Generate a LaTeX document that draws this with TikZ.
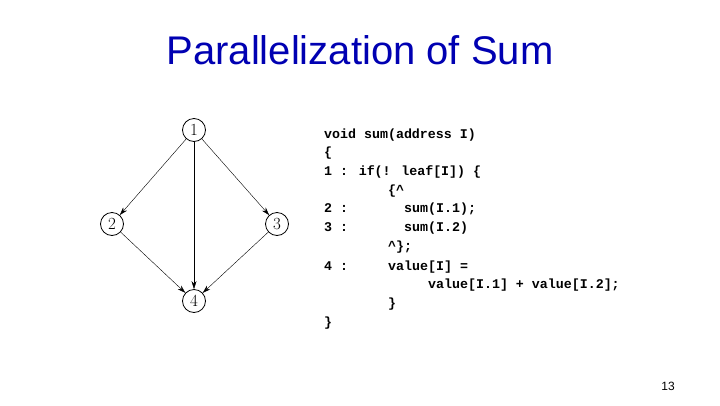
\documentclass[tikz,border=0pt]{standalone}
\usepackage{fontspec}
\setmainfont{Liberation Sans}
\newfontfamily\codefont{Liberation Mono}
\newfontfamily\vertfont{Latin Modern Roman}
\usetikzlibrary{arrows.meta}
\begin{document}
\begin{tikzpicture}[x=1pt,y=-1pt,
  vert/.style={circle,draw,thick,minimum size=23pt,inner sep=0pt,font=\vertfont\fontsize{17}{17}\selectfont},
  edge/.style={-{Stealth[length=8pt,width=5pt]},thin},
  code/.style={anchor=base west,inner sep=0pt,font=\codefont\bfseries\fontsize{13.3}{14}\selectfont}]
\useasboundingbox (0,0) rectangle (720,405);
\node[text=blue!70!black,font=\fontsize{40}{42}\selectfont] (title) at (360,50) {Parallelization of Sum};
\node[vert] (n1) at (194,130) {1};
\node[vert] (n2) at (112,224) {2};
\node[vert] (n3) at (277,224) {3};
\node[vert] (n4) at (194,301) {4};
\draw[edge] (n1) -- (n2);
\draw[edge] (n1) -- (n3);
\draw[edge] (n1) -- (n4);
\draw[edge] (n2) -- (n4);
\draw[edge] (n3) -- (n4);
\node[code] (l1) at (324,138) {void sum(address I)};
\node[code] (l2) at (324,156.7) {\{};
\node[code] (l3) at (324,175.4) {1 : if(! leaf[I]) \{};
\node[code] (l4) at (388,194.1) {\{\textasciicircum};
\node[code] (l5) at (324,212.8) {2 :};
\node[code] (l5b) at (404,212.8) {sum(I.1);};
\node[code] (l6) at (324,231.5) {3 :};
\node[code] (l6b) at (404,231.5) {sum(I.2)};
\node[code] (l7) at (388,250.2) {\textasciicircum\};};
\node[code] (l8) at (324,270) {4 :};
\node[code] (l8b) at (388,270) {value[I] =};
\node[code] (l9) at (428,288.7) {value[I.1] + value[I.2];};
\node[code] (l10) at (388,307.4) {\}};
\node[code] (l11) at (324,326) {\}};
\node[font=\fontsize{12}{13}\selectfont] (pg) at (668,386) {13};
\end{tikzpicture}
\end{document}
